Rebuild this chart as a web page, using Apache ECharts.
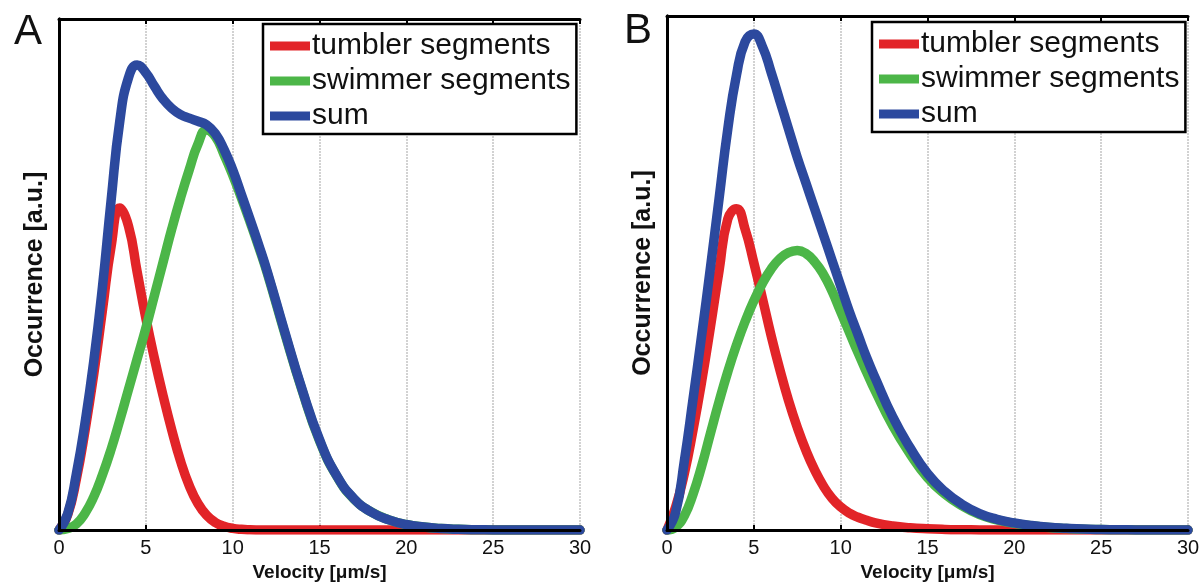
<!DOCTYPE html>
<html>
<head>
<meta charset="utf-8">
<title>Velocity distributions</title>
<script src="https://cdn.jsdelivr.net/npm/echarts@6/dist/echarts.min.js"></script>
<style>
  html, body { margin: 0; padding: 0; background: #ffffff; }
  #chart { width: 1203px; height: 587px; }
</style>
</head>
<body>
<div id="chart"></div>
<script>
// Velocity samples (µm/s), shared by every curve
const velocity = [0, 0.5, 1, 1.5, 2, 2.5, 3, 3.5, 4, 4.5, 5, 5.5, 6, 6.5, 7, 7.5, 8, 8.5, 9, 9.5, 10, 10.5, 11, 11.5, 12,
  13, 14, 15, 16, 17, 18, 19, 20, 21, 22, 23, 24, 25, 26, 27, 28, 29, 30];

// Panel A occurrence (a.u.)
const tumblerA = [0, 3, 10, 19.5, 30.5, 43, 55.5, 63, 59.5, 50.5, 41.5, 33.5, 26.2, 19.5, 13.5, 8.7, 5.2, 2.9, 1.5, 0.75, 0.35, 0.15, 0.06, 0.02, 0,
  0, 0, 0, 0, 0, 0, 0, 0, 0, 0, 0, 0, 0, 0, 0, 0, 0, 0];
const swimmerA = [0, 0.3, 1.2, 3.3, 6.5, 10.8, 15.8, 21.5, 27.5, 33.5, 39.5, 46, 52.5, 59, 65, 70.5, 75.5, 78.3, 77, 73.5, 69.5, 65, 60.3, 55.4, 50.2,
  38.5, 27.3, 17.5, 10.5, 6, 3.5, 2, 1.1, 0.6, 0.3, 0.15, 0.07, 0.03, 0, 0, 0, 0, 0];
const sumA = [0, 3.2, 11, 21, 33, 47.5, 64.5, 80, 88.5, 91, 89.5, 86.8, 84.3, 82.5, 81.3, 80.6, 80, 79.3, 77.6, 74.5, 70.5, 65.7, 60.8, 55.8, 50.5,
  38.8, 27.5, 17.7, 10.6, 6.1, 3.5, 2, 1.1, 0.6, 0.3, 0.15, 0.07, 0.03, 0, 0, 0, 0, 0];

// Panel B occurrence (a.u.)
const tumblerB = [0, 4.5, 11, 19.5, 29, 39.5, 50.5, 60.5, 62.5, 58.5, 52, 45, 37.8, 31.2, 25.2, 20, 15.5, 11.7, 8.6, 6.2, 4.5, 3.3, 2.5, 1.9, 1.4,
  0.8, 0.45, 0.25, 0.13, 0.07, 0.03, 0.01, 0, 0, 0, 0, 0, 0, 0, 0, 0, 0, 0];
const swimmerB = [0, 0.6, 2.8, 7, 12.5, 18.8, 25, 30.8, 36, 40.6, 44.6, 48, 50.8, 52.8, 54, 54.4, 53.8, 52.2, 49.8, 46.5, 42.5, 38.5, 34.5, 30.7, 27,
  20.3, 14.8, 10.2, 7, 4.7, 3, 2, 1.3, 0.85, 0.5, 0.33, 0.19, 0.11, 0.06, 0.04, 0.02, 0.01, 0];
const sumB = [0, 3.5, 13.5, 25.5, 38, 51, 64.5, 78, 88.5, 95, 96.5, 94, 89, 83.5, 78, 72.5, 67.5, 62.5, 57.5, 52.5, 47.5, 42.5, 38, 33.5, 29.5,
  22, 16, 11, 7.5, 5, 3.2, 2.1, 1.4, 0.9, 0.55, 0.35, 0.2, 0.12, 0.07, 0.04, 0.02, 0.01, 0];

const seriesNames = ['tumbler segments', 'swimmer segments', 'sum'];
const seriesColors = ['#e22428', '#4cb648', '#2c499e'];
const panelLabels = ['A', 'B'];
const xTitle = 'Velocity [\u03bcm/s]';
const yTitle = 'Occurrence [a.u.]';

const FONT = '"Liberation Sans", Arial, Helvetica, sans-serif';

const panels = [
  { grid: { left: 59, top: 19, width: 521, height: 518 }, legend: { left: 263, top: 24 }, label: { left: 9, top: 6 },
    curves: [tumblerA, swimmerA, sumA] },
  { grid: { left: 667, top: 16, width: 521, height: 521 }, legend: { left: 872, top: 22 }, label: { left: 619, top: 5 },
    curves: [tumblerB, swimmerB, sumB] }
];

const pairs = (ys) => velocity.map((v, i) => [v, ys[i]]);

const option = {
  animation: false,
  backgroundColor: '#ffffff',
  textStyle: { fontFamily: FONT },
  title: [], grid: [], xAxis: [], yAxis: [], legend: [], series: []
};

panels.forEach((p, k) => {
  option.title.push({
    text: panelLabels[k], left: p.label.left, top: p.label.top,
    textStyle: { fontFamily: FONT, fontSize: 42, fontWeight: 'normal', color: '#111' }
  });
  option.grid.push(Object.assign({ containLabel: false }, p.grid));

  const xBase = option.xAxis.length;
  // ticks, labels, dotted grid and title sit underneath the curves
  option.xAxis.push({
    type: 'value', gridIndex: k, position: 'bottom', min: 0, max: 30, interval: 5, z: 0,
    axisLine: { show: false },
    axisTick: { show: true, inside: true, length: 5, lineStyle: { color: '#000', width: 2 } },
    axisLabel: { show: true, margin: 8, fontSize: 20, color: '#111', fontFamily: FONT },
    splitLine: { show: true, lineStyle: { color: '#c4c4c4', type: [2, 1], width: 1.5 } },
    name: xTitle, nameLocation: 'middle', nameGap: 31,
    nameTextStyle: { fontSize: 19, fontWeight: 'bold', color: '#111', fontFamily: FONT }
  });
  // box edges drawn over the curves
  option.xAxis.push({
    type: 'value', gridIndex: k, position: 'bottom', min: 0, max: 30, interval: 5, z: 10,
    axisLine: { show: true, lineStyle: { color: '#000', width: 3 } },
    axisTick: { show: false }, axisLabel: { show: false }, splitLine: { show: false }
  });
  option.xAxis.push({
    type: 'value', gridIndex: k, position: 'top', min: 0, max: 30, interval: 5, z: 10,
    axisLine: { show: true, lineStyle: { color: '#000', width: 3 } },
    axisTick: { show: true, inside: true, length: 5, lineStyle: { color: '#000', width: 2 } },
    axisLabel: { show: false }, splitLine: { show: false }
  });

  const yBase = option.yAxis.length;
  option.yAxis.push({
    type: 'value', gridIndex: k, position: 'left', min: 0, max: 100, z: 10,
    axisLine: { show: true, lineStyle: { color: '#000', width: 3 } },
    axisTick: { show: false }, axisLabel: { show: false }, splitLine: { show: false },
    name: yTitle, nameLocation: 'middle', nameRotate: 90, nameGap: 11,
    nameTextStyle: { fontSize: 25, fontWeight: 'bold', color: '#111', fontFamily: FONT }
  });
  option.yAxis.push({
    type: 'value', gridIndex: k, position: 'right', min: 0, max: 100, z: 10,
    axisLine: { show: true, lineStyle: { color: '#000', width: 3 } },
    axisTick: { show: false }, axisLabel: { show: false }, splitLine: { show: false }
  });

  p.curves.forEach((ys, j) => {
    option.series.push({
      type: 'line', name: seriesNames[j], xAxisIndex: xBase, yAxisIndex: yBase,
      data: pairs(ys), smooth: 0.5, showSymbol: false, clip: true, z: 2 + j,
      lineStyle: { color: seriesColors[j], width: 9.5, cap: 'round', join: 'round' },
      itemStyle: { color: seriesColors[j] }
    });
  });

  option.legend.push({
    orient: 'vertical', left: p.legend.left, top: p.legend.top, z: 20,
    data: seriesNames.map((n) => ({ name: n, icon: 'rect' })),
    selectedMode: false,
    itemWidth: 40, itemHeight: 9, itemGap: 5,
    padding: [7, 6, 3, 7],
    backgroundColor: '#ffffff', borderColor: '#000', borderWidth: 2.5,
    textStyle: { fontSize: 30, lineHeight: 30, color: '#111', fontFamily: FONT, padding: [0, 0, 0, -3] }
  });
});

const chart = echarts.init(document.getElementById('chart'), null, { renderer: 'canvas' });
chart.setOption(option);
</script>
</body>
</html>
